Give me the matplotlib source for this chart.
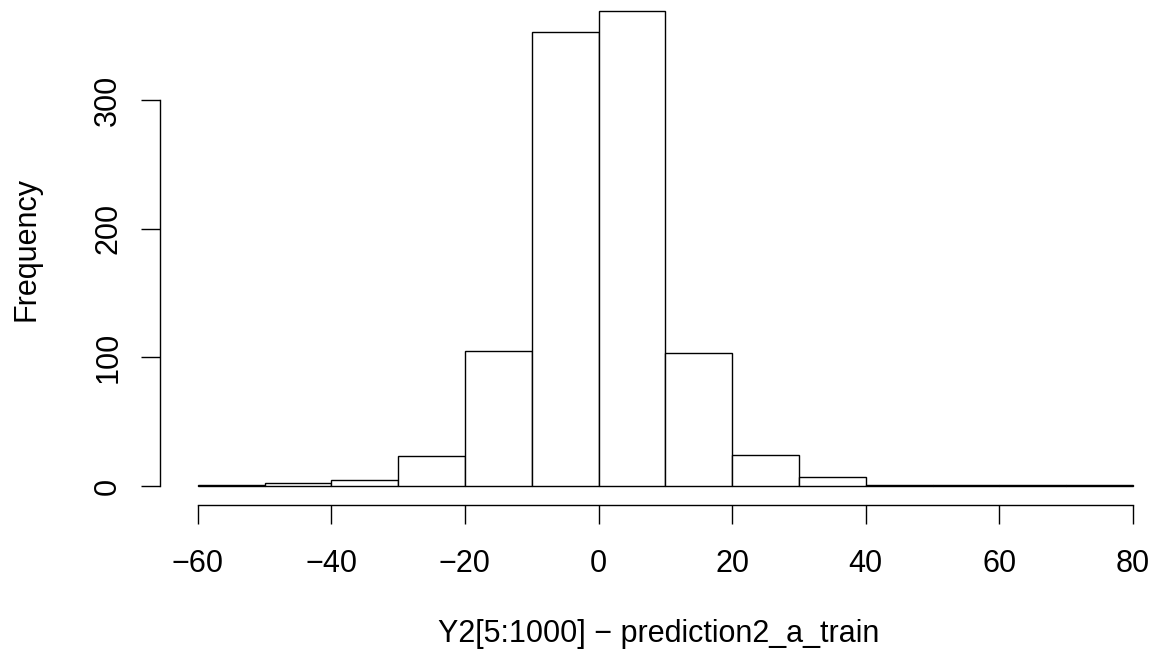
import matplotlib
matplotlib.use("Agg")
import matplotlib.pyplot as plt
import numpy as np

plt.rcParams['font.family'] = ['Liberation Sans', 'DejaVu Sans']

breaks = [-60, -50, -40, -30, -20, -10, 0, 10, 20, 30, 40, 50, 60, 70, 80]
counts = [1, 2, 5, 23, 105, 353, 369, 103, 24, 7, 1, 1, 1, 1]
xticks = [-60, -40, -20, 0, 20, 40, 60, 80]
yticks = [0, 100, 200, 300]
xlabel = "Y2[5:1000] \u2212 prediction2_a_train"
ylabel = "Frequency"

W, H = 1155, 659
fig = plt.figure(figsize=(W / 100, H / 100), dpi=100)
ax = fig.add_axes([160.3 / W, (H - 505) / H, 1010.1 / W, 512.8 / H])

lefts = np.array(breaks[:-1])
widths = np.diff(breaks)
ax.bar(lefts, counts, width=widths, align='edge', facecolor='white',
       edgecolor='black', linewidth=1.0)

xr = breaks[-1] - breaks[0]
ax.set_xlim(breaks[0] - 0.04 * xr, breaks[-1] + 0.04 * xr)
ymax = max(counts)
ax.set_ylim(-0.04 * ymax, ymax * 1.04)

for s in ['top', 'right']:
    ax.spines[s].set_visible(False)
ax.spines['left'].set_bounds(yticks[0], yticks[-1])
ax.spines['bottom'].set_bounds(xticks[0], xticks[-1])
for s in ['left', 'bottom']:
    ax.spines[s].set_linewidth(1.0)

ax.set_xticks(xticks)
ax.set_xticklabels([str(v).replace('-', '\u2212') for v in xticks], fontsize=22)
ax.set_yticks(yticks)
ax.set_yticklabels([str(v) for v in yticks], fontsize=22, rotation=90, va='center')
ax.tick_params(axis='both', length=13.7, width=1.0, direction='out')
ax.tick_params(axis='x', pad=18)
ax.tick_params(axis='y', pad=13)

fig.text(659 / W, 1 - 642 / H, xlabel, fontsize=22, ha='center', va='baseline')
fig.text(27 / W, 1 - 249 / H, ylabel, fontsize=22, rotation=90, ha='center', va='center')

fig.savefig("out.png", dpi=100)
